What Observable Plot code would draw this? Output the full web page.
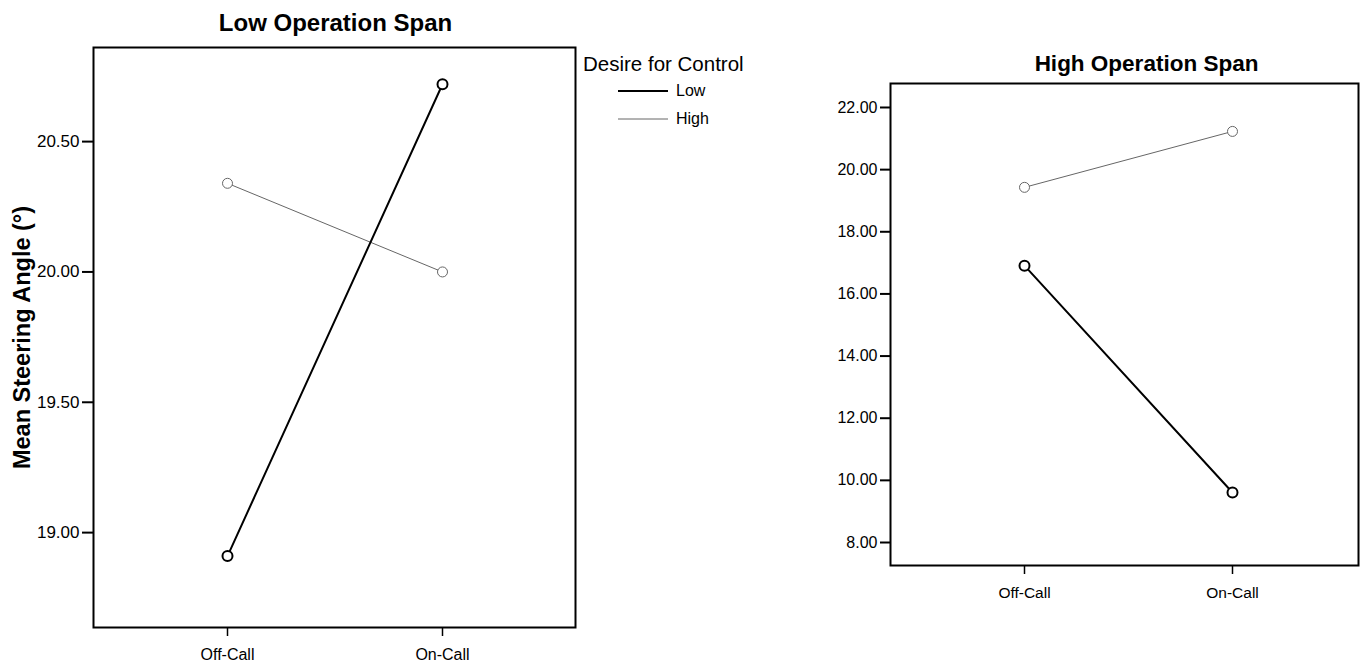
<!DOCTYPE html>
<html><head><meta charset="utf-8">
<script src="https://cdn.jsdelivr.net/npm/d3@7"></script>
<script src="https://cdn.jsdelivr.net/npm/@observablehq/plot@0.6"></script>
<style>
body{margin:0;background:#fff;}
#wrap{position:relative;width:1361px;height:663px;overflow:hidden;font-family:"Liberation Sans",Arial,sans-serif;background:#fff;}
#left{position:absolute;left:0;top:0;}
#right{position:absolute;left:780px;top:0;}
#legend{position:absolute;left:583px;top:51px;color:#000;}
#legend .t{font-size:20.5px;line-height:26px;white-space:nowrap;}
#legend .row{display:flex;align-items:center;height:28px;margin-left:35px;font-size:16px;}
#legend svg{margin-right:8px;}
</style></head><body>
<div id="wrap"><div id="left"></div><div id="right"></div><div id="legend"></div></div>
<script>
// ---- data ----
const conditions = ["Off-Call", "On-Call"];
const groups = ["Low", "High"];
const lowSpanLowDesire = [18.91, 20.72];
const lowSpanHighDesire = [20.34, 20.00];
const highSpanLowDesire = [16.91, 9.61];
const highSpanHighDesire = [19.43, 21.23];
const lowSpanTicks = [19.00, 19.50, 20.00, 20.50];
const highSpanTicks = [8, 10, 12, 14, 16, 18, 20, 22];
const panelTitles = ["Low Operation Span", "High Operation Span"];
const yTitle = "Mean Steering Angle (°)";
const legendTitle = "Desire for Control";

const styles = {
  Low: {stroke: "#000", strokeWidth: 2},
  High: {stroke: "#666", strokeWidth: 1}
};

function rows(lowVals, highVals) {
  const out = [];
  conditions.forEach((c, i) => {
    out.push({condition: c, group: "Low", value: lowVals[i]});
    out.push({condition: c, group: "High", value: highVals[i]});
  });
  return out;
}

function groupMarks(data) {
  const m = [];
  for (const g of ["High", "Low"]) {
    const d = data.filter(r => r.group === g);
    m.push(Plot.line(d, {x: "condition", y: "value", stroke: styles[g].stroke, strokeWidth: styles[g].strokeWidth}));
    m.push(Plot.dot(d, {x: "condition", y: "value", r: 5, fill: "white", stroke: styles[g].stroke, strokeWidth: styles[g].strokeWidth}));
  }
  return m;
}

const font = "'Liberation Sans', Arial, sans-serif";

// ---- left panel ----
const leftData = rows(lowSpanLowDesire, lowSpanHighDesire);
const left = Plot.plot({
  width: 780, height: 663,
  marginLeft: 93, marginRight: 205, marginTop: 47, marginBottom: 36,
  style: {fontFamily: font, color: "#000", background: "transparent"},
  x: {type: "point", domain: conditions, padding: 0.62},
  y: {domain: [18.636, 20.861]},
  marks: [
    Plot.axisY({ticks: lowSpanTicks, tickFormat: d => d.toFixed(2), tickSize: 11, tickPadding: 3, fontSize: 17, strokeWidth: 2, label: null}),
    Plot.axisX({tickSize: 9, tickPadding: 12, fontSize: 16, strokeWidth: 1.5, label: null}),
    ...groupMarks(leftData),
    Plot.frame({stroke: "#000", strokeWidth: 2}),
    Plot.text([panelTitles[0]], {frameAnchor: "top", lineAnchor: "middle", dy: -24, dx: 1, fontSize: 24, fontWeight: "bold", text: d => d}),
    Plot.text([yTitle], {frameAnchor: "left", textAnchor: "middle", lineAnchor: "middle", dx: -71, rotate: -90, fontSize: 23.5, fontWeight: "bold", text: d => d})
  ]
});
document.getElementById("left").appendChild(left);

// ---- right panel ----
const rightData = rows(highSpanLowDesire, highSpanHighDesire);
const right = Plot.plot({
  width: 581, height: 663,
  marginLeft: 110, marginRight: 3, marginTop: 83, marginBottom: 98,
  style: {fontFamily: font, color: "#000", background: "transparent"},
  x: {type: "point", domain: conditions, padding: 0.62, align: 0.514},
  y: {domain: [7.26, 22.772]},
  marks: [
    Plot.axisY({ticks: highSpanTicks, tickFormat: d => d.toFixed(2), tickSize: 10, tickPadding: 3, fontSize: 16, strokeWidth: 2, label: null}),
    Plot.axisX({tickSize: 9, tickPadding: 12, fontSize: 15.5, strokeWidth: 1.5, label: null}),
    ...groupMarks(rightData),
    Plot.frame({stroke: "#000", strokeWidth: 2}),
    Plot.text([panelTitles[1]], {frameAnchor: "top", lineAnchor: "middle", dy: -20, dx: 22, fontSize: 22.5, fontWeight: "bold", text: d => d})
  ]
});
document.getElementById("right").appendChild(right);

// ---- legend ----
const lg = document.getElementById("legend");
const t = document.createElement("div");
t.className = "t";
t.textContent = legendTitle;
lg.appendChild(t);
for (const g of groups) {
  const row = document.createElement("div");
  row.className = "row";
  row.innerHTML = `<svg width="50" height="6"><line x1="0" x2="50" y1="3" y2="3" stroke="${styles[g].stroke}" stroke-width="${styles[g].strokeWidth}"/></svg><span>${g}</span>`;
  lg.appendChild(row);
}
</script>
</body></html>
